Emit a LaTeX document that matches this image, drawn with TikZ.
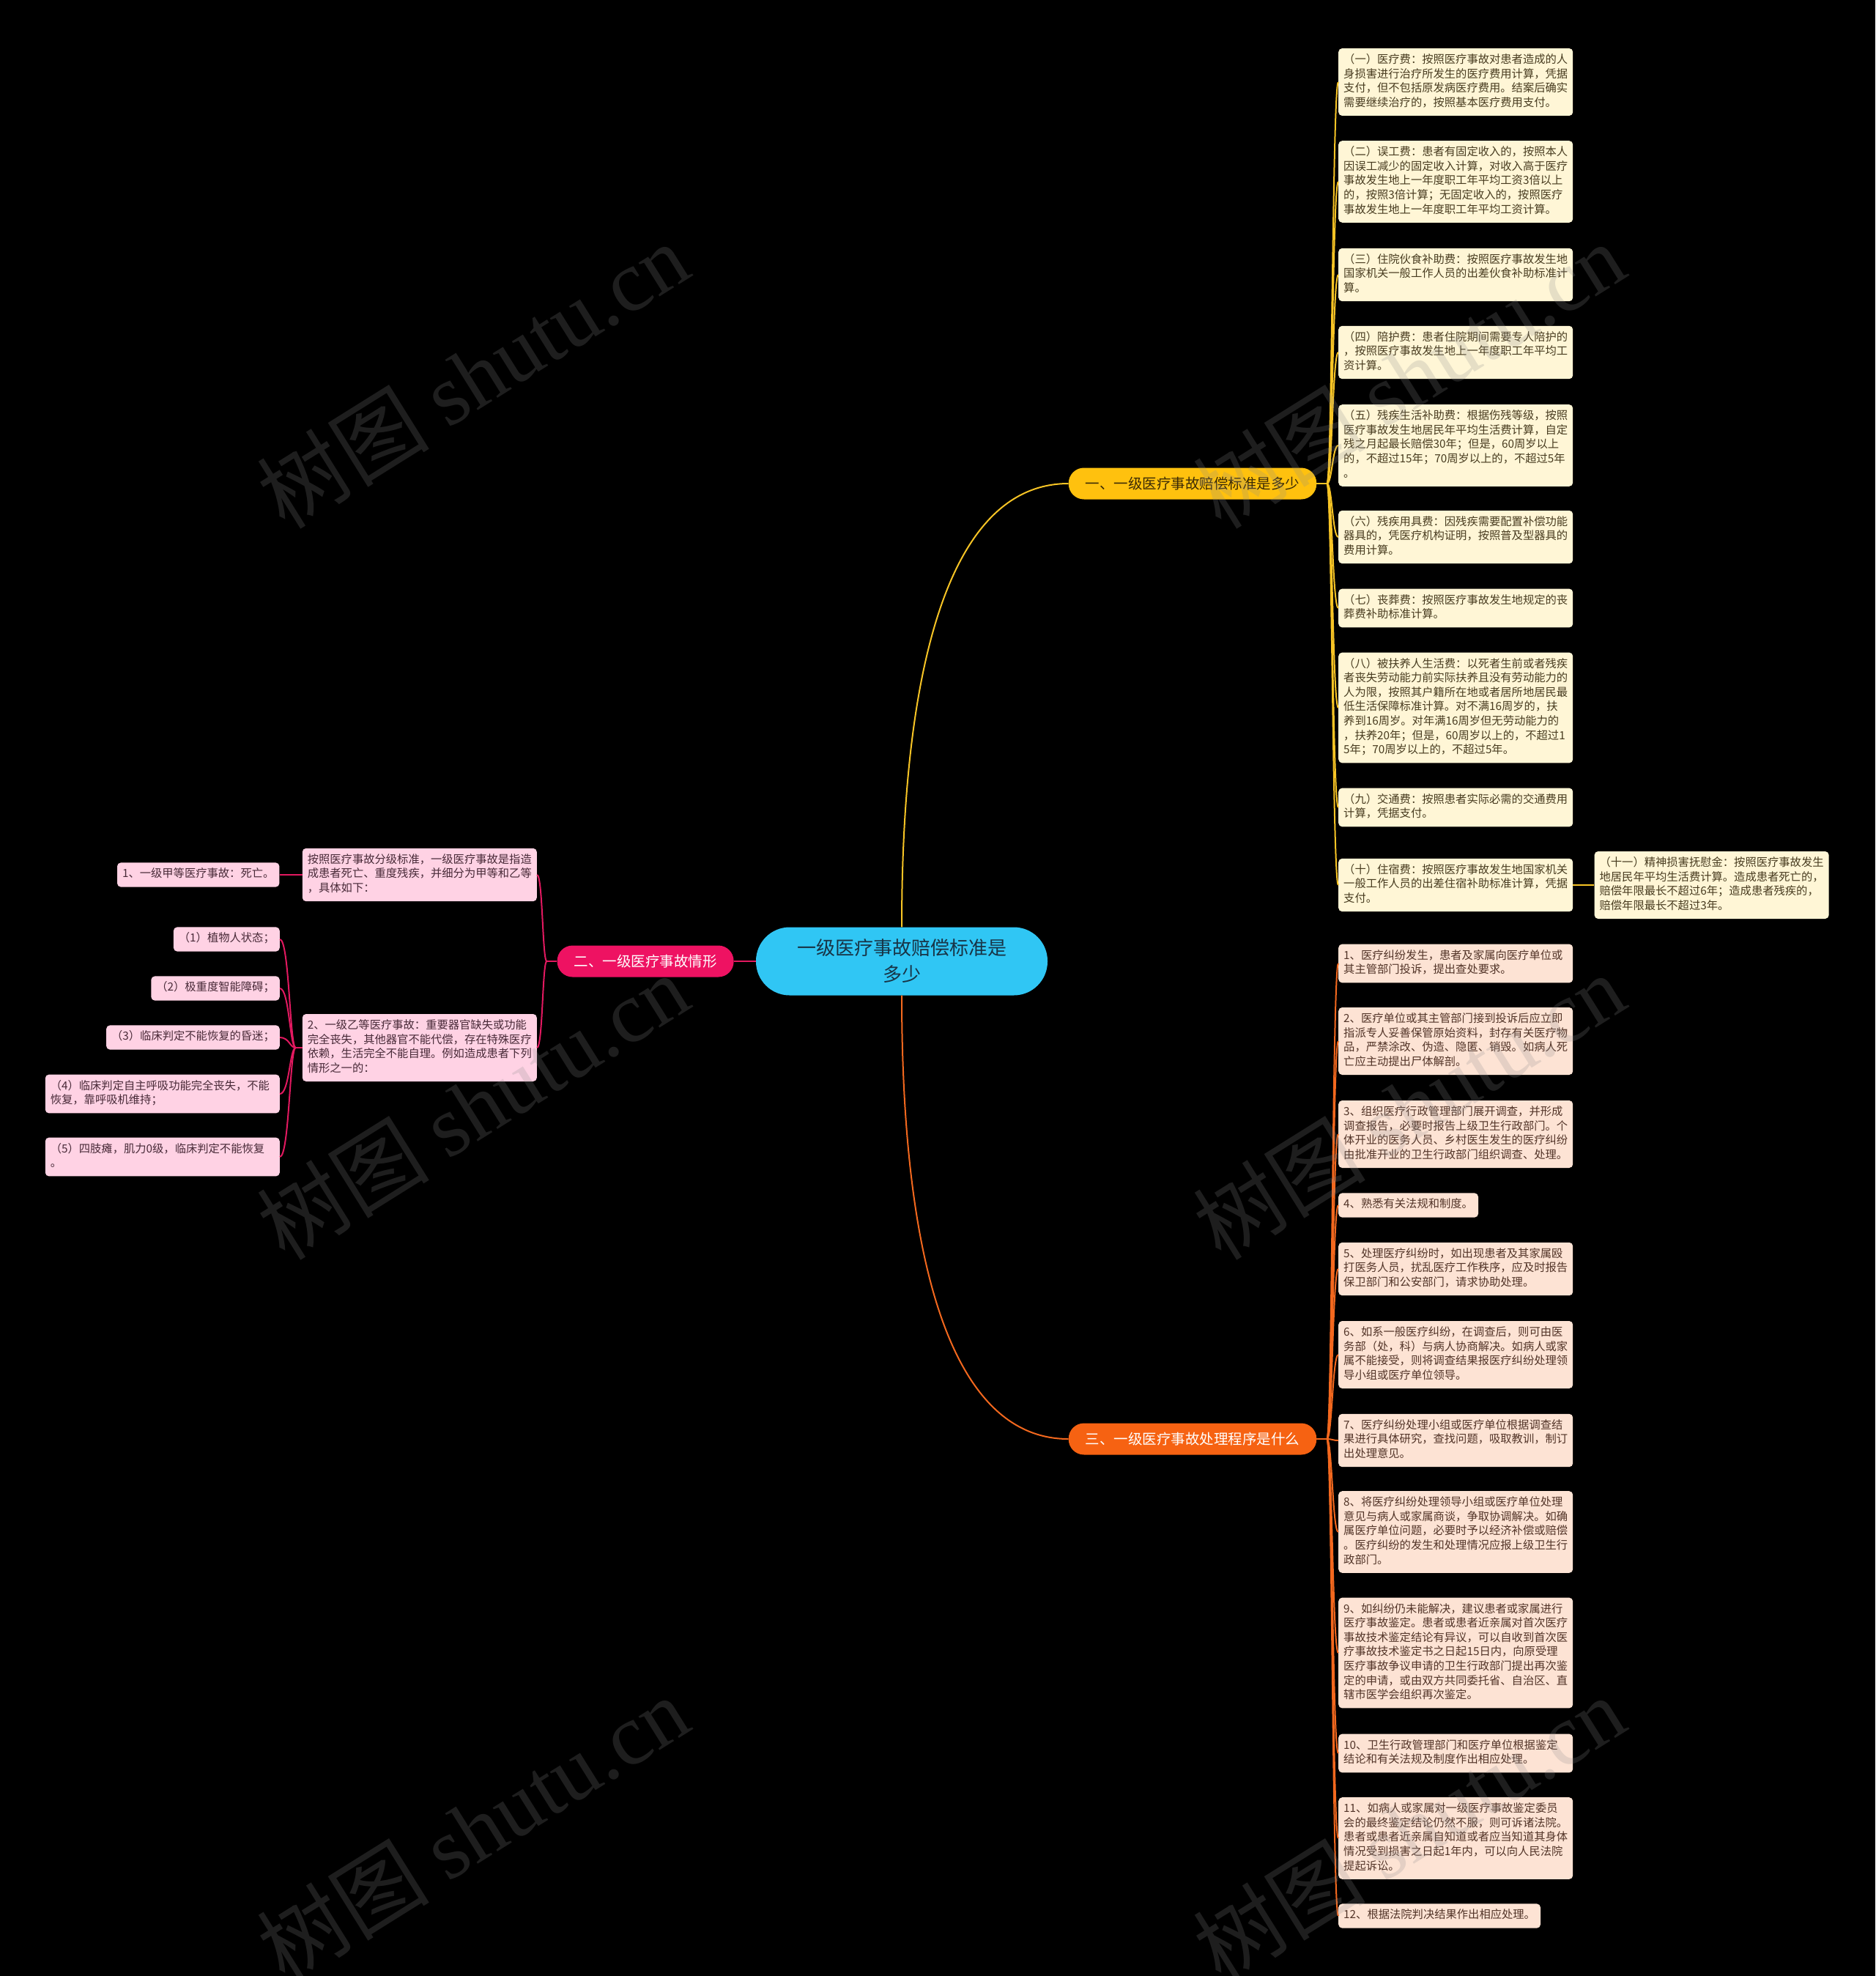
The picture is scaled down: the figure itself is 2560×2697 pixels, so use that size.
\documentclass[tikz,border=0pt]{standalone}
\usepackage{fontspec}
\setmainfont{Noto Sans CJK SC}
\newfontfamily\markfont{Liberation Serif}
\usetikzlibrary{positioning}

\definecolor{rootblue}{RGB}{48,198,244}
\definecolor{roottext}{RGB}{24,52,70}
\definecolor{amber}{RGB}{255,193,14}
\definecolor{ambertext}{RGB}{58,42,6}
\definecolor{rose}{RGB}{238,18,98}
\definecolor{tangerine}{RGB}{246,98,18}
\definecolor{linegold}{RGB}{247,196,37}
\definecolor{linerose}{RGB}{226,25,96}
\definecolor{lineorange}{RGB}{243,104,30}
\definecolor{cream}{RGB}{255,246,214}
\definecolor{creamtext}{RGB}{72,60,32}
\definecolor{blush}{RGB}{255,210,228}
\definecolor{blushtext}{RGB}{72,42,56}
\definecolor{peach}{RGB}{253,227,212}
\definecolor{peachtext}{RGB}{82,52,40}

\tikzstyle{mainidea} =
        [
                rectangle,
                fill = rootblue,
                text = roottext,
                rounded corners = 46pt,
                minimum width = 398pt,
                minimum height = 93pt,
                align = center,
                font = \fontsize{26}{36}\selectfont
        ]
\tikzstyle{topic} =
        [
                rectangle,
                rounded corners = 21pt,
                minimum height = 43pt,
                inner xsep = 23pt,
                font = \fontsize{19.5}{24}\selectfont
        ]
\tikzstyle{leafbox} =
        [
                rectangle,
                rounded corners = 5pt,
                inner xsep = 7pt,
                inner ysep = 6.8pt,
                align = left,
                font = \fontsize{15.3}{19.6}\selectfont,
                execute at begin node = \strut,
                execute at end node = \strut
        ]
\tikzstyle{feebox} =
        [
                leafbox,
                fill = cream,
                text = creamtext,
                text width = 306pt,
                anchor = west
        ]
\tikzstyle{gradebox} =
        [
                leafbox,
                fill = blush,
                text = blushtext,
                anchor = east
        ]
\tikzstyle{gradewide} = [gradebox, text width = 306pt]
\tikzstyle{stagebox} =
        [
                leafbox,
                fill = peach,
                text = peachtext,
                anchor = west
        ]
\tikzstyle{stagewide} = [stagebox, text width = 306pt]
\tikzstyle{feeline} = [draw, linegold, line width = 2pt]
\tikzstyle{gradeline} = [draw, linerose, line width = 2pt]
\tikzstyle{stageline} = [draw, lineorange, line width = 2pt]
\tikzstyle{stamp} =
        [
                rotate = 32,
                text = black!45,
                opacity = 0.22,
                font = \fontsize{118}{126}\selectfont
        ]

\begin{document}
\begin{tikzpicture}[x = 1pt, y = -1pt, node distance = 30pt]
        \fill [black] (0,0) rectangle (2560,2697);
        \useasboundingbox (0,0) rectangle (2560,2697);

        \node [mainidea] (root) at (1231,1312) {一级医疗事故赔偿标准是\\多少};
        \node [topic, fill = amber, text = ambertext] (cost) at (1628,660) {一、一级医疗事故赔偿标准是多少};
        \node [topic, fill = rose, text = white, left = of root] (kinds) {二、一级医疗事故情形};
        \node [topic, fill = tangerine, text = white] (steps) at (1628,1964) {三、一级医疗事故处理程序是什么};

        % 赔偿标准
        \node [feebox] (fee1) at (1827,112) {（一）医疗费：按照医疗事故对患者造成的人\\身损害进行治疗所发生的医疗费用计算，凭据\\支付，但不包括原发病医疗费用。结案后确实\\需要继续治疗的，按照基本医疗费用支付。};
        \node [feebox, below = 136pt of fee1.west, anchor = west] (fee2) {（二）误工费：患者有固定收入的，按照本人\\因误工减少的固定收入计算，对收入高于医疗\\事故发生地上一年度职工年平均工资3倍以上\\的，按照3倍计算；无固定收入的，按照医疗\\事故发生地上一年度职工年平均工资计算。};
        \node [feebox, below = 127pt of fee2.west, anchor = west] (fee3) {（三）住院伙食补助费：按照医疗事故发生地\\国家机关一般工作人员的出差伙食补助标准计\\算。};
        \node [feebox, below = 106pt of fee3.west, anchor = west] (fee4) {（四）陪护费：患者住院期间需要专人陪护的\\，按照医疗事故发生地上一年度职工年平均工\\资计算。};
        \node [feebox, below = 127pt of fee4.west, anchor = west] (fee5) {（五）残疾生活补助费：根据伤残等级，按照\\医疗事故发生地居民年平均生活费计算，自定\\残之月起最长赔偿30年；但是，60周岁以上\\的，不超过15年；70周岁以上的，不超过5年\\。};
        \node [feebox, below = 125pt of fee5.west, anchor = west] (fee6) {（六）残疾用具费：因残疾需要配置补偿功能\\器具的，凭医疗机构证明，按照普及型器具的\\费用计算。};
        \node [feebox, below = 97pt of fee6.west, anchor = west] (fee7) {（七）丧葬费：按照医疗事故发生地规定的丧\\葬费补助标准计算。};
        \node [feebox, below = 136pt of fee7.west, anchor = west] (fee8) {（八）被扶养人生活费：以死者生前或者残疾\\者丧失劳动能力前实际扶养且没有劳动能力的\\人为限，按照其户籍所在地或者居所地居民最\\低生活保障标准计算。对不满16周岁的，扶\\养到16周岁。对年满16周岁但无劳动能力的\\，扶养20年；但是，60周岁以上的，不超过1\\5年；70周岁以上的，不超过5年。};
        \node [feebox, below = 136pt of fee8.west, anchor = west] (fee9) {（九）交通费：按照患者实际必需的交通费用\\计算，凭据支付。};
        \node [feebox, below = 106pt of fee9.west, anchor = west] (fee10) {（十）住宿费：按照医疗事故发生地国家机关\\一般工作人员的出差住宿补助标准计算，凭据\\支付。};
        \node [feebox, right = 29pt of fee10.east] (fee11) {（十一）精神损害抚慰金：按照医疗事故发生\\地居民年平均生活费计算。造成患者死亡的，\\赔偿年限最长不超过6年；造成患者残疾的，\\赔偿年限最长不超过3年。};

        % 情形
        \node [gradewide] (rule) at (733,1194) {按照医疗事故分级标准，一级医疗事故是指造\\成患者死亡、重度残疾，并细分为甲等和乙等\\，具体如下：};
        \node [gradewide, below = 236pt of rule.east, anchor = east] (second) {2、一级乙等医疗事故：重要器官缺失或功能\\完全丧失，其他器官不能代偿，存在特殊医疗\\依赖，生活完全不能自理。例如造成患者下列\\情形之一的：};
        \node [gradebox, left = 31pt of rule.west] (first) {1、一级甲等医疗事故：死亡。};
        \node [gradebox] (case1) at (382,1282) {（1）植物人状态；};
        \node [gradebox, below = 67pt of case1.east, anchor = east] (case2) {（2）极重度智能障碍；};
        \node [gradebox, below = 67pt of case2.east, anchor = east] (case3) {（3）临床判定不能恢复的昏迷；};
        \node [gradewide, below = 77pt of case3.east, anchor = east] (case4) {（4）临床判定自主呼吸功能完全丧失，不能\\恢复，靠呼吸机维持；};
        \node [gradewide, below = 86pt of case4.east, anchor = east] (case5) {（5）四肢瘫，肌力0级，临床判定不能恢复\\。};

        % 处理程序
        \node [stagewide] (stage1) at (1827,1315) {1、医疗纠纷发生，患者及家属向医疗单位或\\其主管部门投诉，提出查处要求。};
        \node [stagewide, below = 106pt of stage1.west, anchor = west] (stage2) {2、医疗单位或其主管部门接到投诉后应立即\\指派专人妥善保管原始资料，封存有关医疗物\\品，严禁涂改、伪造、隐匿、销毁。如病人死\\亡应主动提出尸体解剖。};
        \node [stagewide, below = 127pt of stage2.west, anchor = west] (stage3) {3、组织医疗行政管理部门展开调查，并形成\\调查报告，必要时报告上级卫生行政部门。个\\体开业的医务人员、乡村医生发生的医疗纠纷\\由批准开业的卫生行政部门组织调查、处理。};
        \node [stagebox, below = 97pt of stage3.west, anchor = west] (stage4) {4、熟悉有关法规和制度。};
        \node [stagewide, below = 87pt of stage4.west, anchor = west] (stage5) {5、处理医疗纠纷时，如出现患者及其家属殴\\打医务人员，扰乱医疗工作秩序，应及时报告\\保卫部门和公安部门，请求协助处理。};
        \node [stagewide, below = 117pt of stage5.west, anchor = west] (stage6) {6、如系一般医疗纠纷，在调查后，则可由医\\务部（处，科）与病人协商解决。如病人或家\\属不能接受，则将调查结果报医疗纠纷处理领\\导小组或医疗单位领导。};
        \node [stagewide, below = 117pt of stage6.west, anchor = west] (stage7) {7、医疗纠纷处理小组或医疗单位根据调查结\\果进行具体研究，查找问题，吸取教训，制订\\出处理意见。};
        \node [stagewide, below = 125pt of stage7.west, anchor = west] (stage8) {8、将医疗纠纷处理领导小组或医疗单位处理\\意见与病人或家属商谈，争取协调解决。如确\\属医疗单位问题，必要时予以经济补偿或赔偿\\。医疗纠纷的发生和处理情况应报上级卫生行\\政部门。};
        \node [stagewide, below = 165pt of stage8.west, anchor = west] (stage9) {9、如纠纷仍未能解决，建议患者或家属进行\\医疗事故鉴定。患者或患者近亲属对首次医疗\\事故技术鉴定结论有异议，可以自收到首次医\\疗事故技术鉴定书之日起15日内，向原受理\\医疗事故争议申请的卫生行政部门提出再次鉴\\定的申请，或由双方共同委托省、自治区、直\\辖市医学会组织再次鉴定。};
        \node [stagewide, below = 137pt of stage9.west, anchor = west] (stage10) {10、卫生行政管理部门和医疗单位根据鉴定\\结论和有关法规及制度作出相应处理。};
        \node [stagewide, below = 116pt of stage10.west, anchor = west] (stage11) {11、如病人或家属对一级医疗事故鉴定委员\\会的最终鉴定结论仍然不服，则可诉诸法院。\\患者或患者近亲属自知道或者应当知道其身体\\情况受到损害之日起1年内，可以向人民法院\\提起诉讼。};
        \node [stagebox, below = 106pt of stage11.west, anchor = west] (stage12) {12、根据法院判决结果作出相应处理。};

        \coordinate [right = 14pt of cost.east] (costhub);
        \coordinate [left = 14pt of kinds.west] (kindhub);
        \coordinate [left = 9pt of second.west] (casehub);
        \coordinate [right = 14pt of steps.east] (stephub);

        \path [feeline] (root.north) .. controls +(0,-366) and +(-159,0) .. (cost.west);
        \path [gradeline] (root.west) -- (kinds.east);
        \path [stageline] (root.south) .. controls +(0,366) and +(-159,0) .. (steps.west);

        \path [feeline] (cost.east) -- (costhub);
        \path [feeline] (costhub) .. controls +(7,0) and +(-8,0) .. (fee1.west);
        \path [feeline] (costhub) .. controls +(7,0) and +(-8,0) .. (fee2.west);
        \path [feeline] (costhub) .. controls +(7,0) and +(-8,0) .. (fee3.west);
        \path [feeline] (costhub) .. controls +(7,0) and +(-8,0) .. (fee4.west);
        \path [feeline] (costhub) .. controls +(7,0) and +(-8,0) .. (fee5.west);
        \path [feeline] (costhub) .. controls +(7,0) and +(-8,0) .. (fee6.west);
        \path [feeline] (costhub) .. controls +(7,0) and +(-8,0) .. (fee7.west);
        \path [feeline] (costhub) .. controls +(7,0) and +(-8,0) .. (fee8.west);
        \path [feeline] (costhub) .. controls +(7,0) and +(-8,0) .. (fee9.west);
        \path [feeline] (costhub) .. controls +(7,0) and +(-8,0) .. (fee10.west);
        \path [feeline] (fee10.east) -- (fee11.west);

        \path [gradeline] (kinds.west) -- (kindhub);
        \path [gradeline] (kindhub) .. controls +(-6,0) and +(8,0) .. (rule.east);
        \path [gradeline] (kindhub) .. controls +(-6,0) and +(8,0) .. (second.east);
        \path [gradeline] (rule.west) -- (first.east);
        \path [gradeline] (second.west) -- (casehub);
        \path [gradeline] (casehub) .. controls +(-8,0) and +(13,0) .. (case1.east);
        \path [gradeline] (casehub) .. controls +(-8,0) and +(13,0) .. (case2.east);
        \path [gradeline] (casehub) .. controls +(-8,0) and +(13,0) .. (case3.east);
        \path [gradeline] (casehub) .. controls +(-8,0) and +(13,0) .. (case4.east);
        \path [gradeline] (casehub) .. controls +(-8,0) and +(13,0) .. (case5.east);

        \path [stageline] (steps.east) -- (stephub);
        \path [stageline] (stephub) .. controls +(7,0) and +(-8,0) .. (stage1.west);
        \path [stageline] (stephub) .. controls +(7,0) and +(-8,0) .. (stage2.west);
        \path [stageline] (stephub) .. controls +(7,0) and +(-8,0) .. (stage3.west);
        \path [stageline] (stephub) .. controls +(7,0) and +(-8,0) .. (stage4.west);
        \path [stageline] (stephub) .. controls +(7,0) and +(-8,0) .. (stage5.west);
        \path [stageline] (stephub) .. controls +(7,0) and +(-8,0) .. (stage6.west);
        \path [stageline] (stephub) .. controls +(7,0) and +(-8,0) .. (stage7.west);
        \path [stageline] (stephub) .. controls +(7,0) and +(-8,0) .. (stage8.west);
        \path [stageline] (stephub) .. controls +(7,0) and +(-8,0) .. (stage9.west);
        \path [stageline] (stephub) .. controls +(7,0) and +(-8,0) .. (stage10.west);
        \path [stageline] (stephub) .. controls +(7,0) and +(-8,0) .. (stage11.west);
        \path [stageline] (stephub) .. controls +(7,0) and +(-8,0) .. (stage12.west);

        % watermark
        \node [stamp] (wm1) at (645,512) {树图 {\markfont shutu.cn}};
        \node [stamp] (wm2) at (645,1510) {树图 {\markfont shutu.cn}};
        \node [stamp] (wm3) at (645,2496) {树图 {\markfont shutu.cn}};
        \node [stamp] (wm4) at (1923,512) {树图 {\markfont shutu.cn}};
        \node [stamp] (wm5) at (1923,1510) {树图 {\markfont shutu.cn}};
        \node [stamp] (wm6) at (1923,2496) {树图 {\markfont shutu.cn}};
\end{tikzpicture}
\end{document}
